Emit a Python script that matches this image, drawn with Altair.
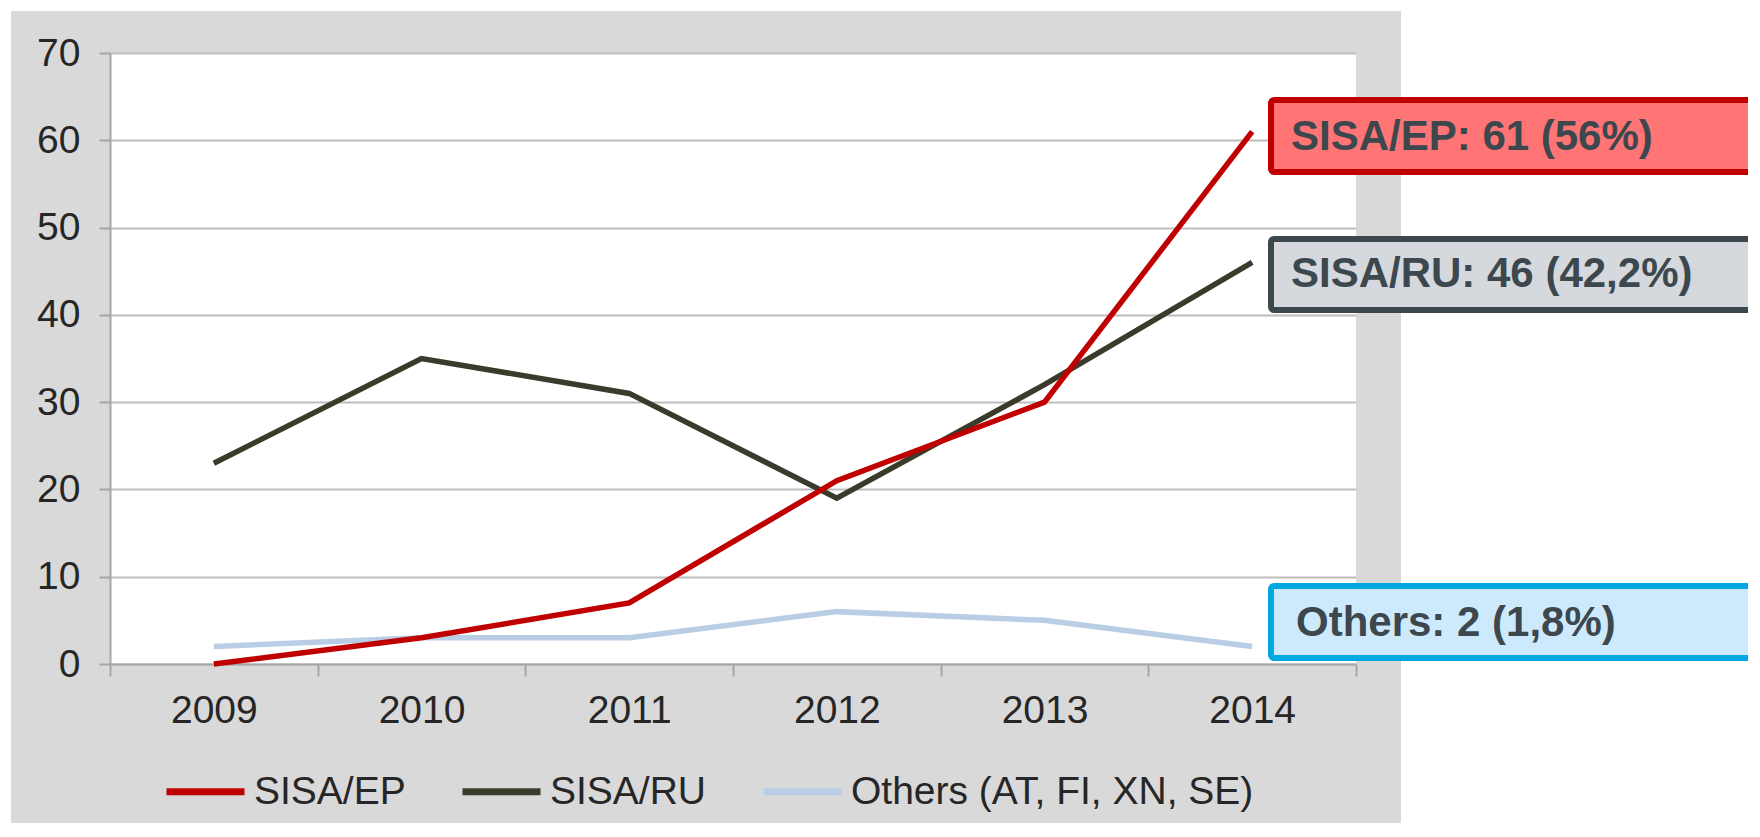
import altair as alt
import pandas as pd

years = ["2009", "2010", "2011", "2012", "2013", "2014"]
sisa_ep = [0, 3, 7, 21, 30, 61]
sisa_ru = [23, 35, 31, 19, 32, 46]
others = [2, 3, 3, 6, 5, 2]
series_names = ["SISA/EP", "SISA/RU", "Others (AT, FI, XN, SE)"]
series_colors = ["#c00000", "#3b3b2c", "#b9cde5"]
y_ticks = [0, 10, 20, 30, 40, 50, 60, 70]
box_labels = ["SISA/EP: 61 (56%)", "SISA/RU: 46 (42,2%)", "Others: 2 (1,8%)"]
box_fills = ["#ff7474", "#d5d9de", "#cdeafc"]
box_strokes = ["#c00000", "#3d474e", "#00a8e1"]

FONT = "Liberation Sans"

rows = []
for name, vals in [(series_names[2], others), (series_names[1], sisa_ru), (series_names[0], sisa_ep)]:
    for yr, v in zip(years, vals):
        rows.append({"year": yr, "series": name, "value": v})
df = pd.DataFrame(rows)

last = pd.DataFrame({
    "series": series_names,
    "value": [sisa_ep[-1], sisa_ru[-1], others[-1]],
    "label": box_labels,
})

yscale = alt.Scale(domain=[0, 70], nice=False, zero=True)
yaxis = alt.Axis(
    title=None, values=y_ticks, labelFontSize=39, labelFont=FONT, labelColor="#262626",
    labelPadding=19, tickSize=11, tickColor="#a6a6a6", tickWidth=2,
    domainColor="#a6a6a6", domainWidth=2, gridColor="#bdbdbd", gridWidth=2, grid=True,
)
Y = alt.Y("value:Q", scale=yscale, axis=yaxis)

lines = alt.Chart(df).mark_line(strokeWidth=5.5).encode(
    x=alt.X(
        "year:O", sort=years, bandPosition=0.5,
        scale=alt.Scale(type="band", paddingInner=0, paddingOuter=0),
        axis=alt.Axis(
            title=None, labelAngle=0, tickBand="extent", labelFontSize=39, labelFont=FONT,
            labelColor="#262626", labelPadding=15, tickSize=12, tickColor="#a6a6a6",
            tickWidth=2, domainColor="#a6a6a6", domainWidth=2, grid=False,
        ),
    ),
    y=Y,
    color=alt.Color(
        "series:N",
        scale=alt.Scale(domain=series_names, range=series_colors),
        legend=alt.Legend(
            title=None, orient="none", legendX=53, legendY=696, direction="horizontal",
            symbolType="stroke", symbolSize=6084, symbolStrokeWidth=7,
            labelFontSize=39, labelFont=FONT, labelColor="#262626", labelOffset=6,
            labelLimit=0, columnPadding=42, padding=0,
        ),
    ),
    detail="series:N",
)

blank = alt.Chart(pd.DataFrame({"k": [0]})).mark_rect(color="white")
white_right = blank.encode(x=alt.value(1291), x2=alt.value(1700), y=alt.value(-60), y2=alt.value(900))
white_top = blank.encode(x=alt.value(-200), x2=alt.value(1700), y=alt.value(-100), y2=alt.value(-42))
white_left = blank.encode(x=alt.value(-200), x2=alt.value(-99), y=alt.value(-100), y2=alt.value(900))

# per-box vertical placement (top offset, bottom offset, text offset) relative to the value
box_style = {
    series_names[0]: (-31.5, 40.5, 5),
    series_names[1]: (-23.5, 47.5, 12),
    series_names[2]: (-60.5, 11.5, -24),
}

layers = [white_right, white_top, white_left, lines]
for i, name in enumerate(series_names):
    top, bottom, dy = box_style[name]
    src = alt.Chart(last).transform_filter(alt.datum.series == name)
    rect = src.mark_rect(
        fill=box_fills[i], stroke=box_strokes[i], strokeWidth=6, cornerRadius=3,
        yOffset=top, y2Offset=bottom,
    ).encode(x=alt.value(1161), x2=alt.value(1700), y=Y, y2=alt.Y2("value"))
    txt = src.mark_text(
        align="left", baseline="middle", font=FONT, fontSize=42, fontWeight="bold",
        color="#3d474e", dy=dy,
    ).encode(x=alt.value(1181 + (5 if i == 2 else 0)), y=Y, text="label:N")
    layers += [rect, txt]

chart = alt.layer(*layers).properties(
    width=1246, height=611,
    padding={"left": 102, "top": 45, "right": 392, "bottom": 159},
    autosize=alt.AutoSizeParams(type="none"),
    background="#d9d9d9",
).configure_view(fill="white", stroke=None)

chart.save("out.html", embed_options={"renderer": "svg", "actions": False})
